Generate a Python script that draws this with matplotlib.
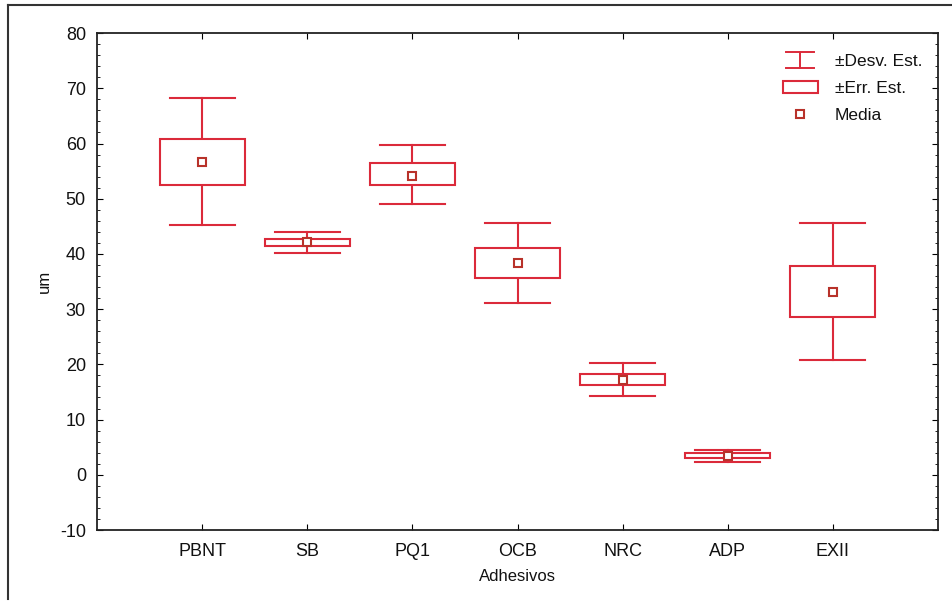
import matplotlib
matplotlib.use('Agg')
import matplotlib.pyplot as plt
from matplotlib.patches import Rectangle
from matplotlib.lines import Line2D
from matplotlib.legend_handler import HandlerBase
from matplotlib.ticker import MultipleLocator

plt.rcParams['font.family'] = ['Liberation Sans', 'DejaVu Sans']
plt.rcParams['axes.unicode_minus'] = False

# data
adhesivos = ['PBNT', 'SB', 'PQ1', 'OCB', 'NRC', 'ADP', 'EXII']
media = [56.6, 42.1, 54.2, 38.3, 17.2, 3.4, 33.1]
err_lo = [52.4, 41.4, 52.4, 35.6, 16.3, 3.1, 28.6]
err_hi = [60.9, 42.7, 56.4, 41.0, 18.3, 4.0, 37.8]
desv_lo = [45.2, 40.2, 49.0, 31.1, 14.3, 2.4, 20.8]
desv_hi = [68.3, 44.0, 59.8, 45.6, 20.3, 4.4, 45.6]

red = '#db2a3a'
mean_red = '#b8322a'


# legend icon for the std dev whisker: a little I-beam
class HandlerIBeam(HandlerBase):
    def create_artists(self, legend, orig_handle, xdescent, ydescent,
                       width, height, fontsize, trans):
        cx = width / 2 - xdescent
        y0 = -ydescent - 0.15 * height
        y1 = -ydescent + 1.15 * height
        kw = dict(color=red, lw=1.4, transform=trans)
        return [Line2D([cx, cx], [y0, y1], **kw),
                Line2D([0.1 * width, 0.9 * width], [y1, y1], **kw),
                Line2D([0.1 * width, 0.9 * width], [y0, y0], **kw)]


fig = plt.figure(figsize=(9.53, 6.02), dpi=100)
fig.patch.set_facecolor('white')
ax = fig.add_axes([0.1018, 0.1196, 0.8825, 0.8254])

box_w = 0.81
cap_w = 0.62
for i, name in enumerate(adhesivos):
    x = i + 1
    # whiskers (std dev)
    ax.plot([x, x], [err_hi[i], desv_hi[i]], color=red, lw=1.5)
    ax.plot([x, x], [desv_lo[i], err_lo[i]], color=red, lw=1.5)
    ax.plot([x - cap_w / 2, x + cap_w / 2], [desv_hi[i], desv_hi[i]], color=red, lw=1.5)
    ax.plot([x - cap_w / 2, x + cap_w / 2], [desv_lo[i], desv_lo[i]], color=red, lw=1.5)
    # box (std err)
    ax.add_patch(Rectangle((x - box_w / 2, err_lo[i]), box_w, err_hi[i] - err_lo[i],
                           facecolor='white', edgecolor=red, lw=1.5, zorder=2))
    # mean
    ax.plot(x, media[i], 's', ms=5.5, mfc='white', mec=mean_red, mew=1.5, zorder=3)

ax.set_xlim(0, 8)
ax.set_ylim(-10, 80)
ax.set_xticks(range(1, len(adhesivos) + 1))
ax.set_xticklabels(adhesivos)
ax.yaxis.set_major_locator(MultipleLocator(10))
ax.yaxis.set_minor_locator(MultipleLocator(2))
ax.tick_params(axis='both', which='both', direction='in', top=True, right=True,
               labelsize=13, pad=8, labelcolor='#111111')
ax.tick_params(axis='both', which='major', length=4, width=0.8)
ax.tick_params(axis='y', which='minor', length=2, width=0.6)
ax.tick_params(axis='x', which='major', pad=9)
for s in ax.spines.values():
    s.set_linewidth(1.3)
    s.set_color('#222222')

ax.set_xlabel('Adhesivos', fontsize=12, labelpad=7, color='#111111')
ax.set_ylabel('um', fontsize=12, labelpad=6, color='#111111')

# legend
h_desv = Line2D([], [], color=red)
h_err = Rectangle((0, 0), 1, 1, facecolor='white', edgecolor=red, lw=1.5)
h_med = Line2D([], [], ls='none', marker='s', ms=5.5, mfc='white', mec=mean_red, mew=1.5)
leg = ax.legend([h_desv, h_err, h_med], ['±Desv. Est.', '±Err. Est.', 'Media'],
                handler_map={h_desv: HandlerIBeam()},
                loc='upper right', frameon=False, fontsize=12.5, numpoints=1,
                handlelength=2.0, handletextpad=1.0, borderaxespad=0.5,
                labelspacing=0.7, bbox_to_anchor=(1.0, 0.99))
for t in leg.get_texts():
    t.set_color('#111111')

# scan frame
fig.add_artist(Line2D([0.0085, 0.0085], [0.005, 0.992], color='#333333', lw=1.5,
                      transform=fig.transFigure))
fig.add_artist(Line2D([0.0085, 1.0], [0.992, 0.992], color='#333333', lw=1.5,
                      transform=fig.transFigure))

fig.savefig('out.png', dpi=100, facecolor='white')
